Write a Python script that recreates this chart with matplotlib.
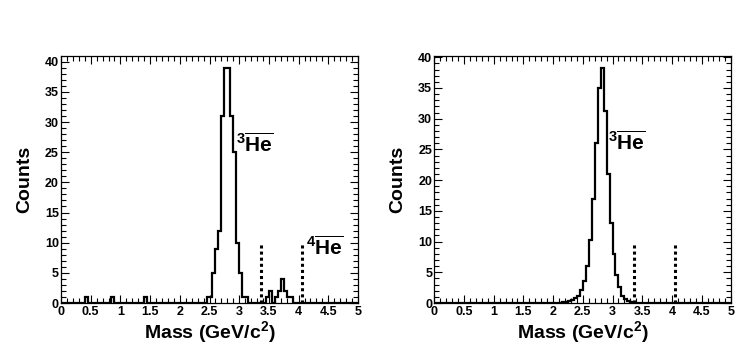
import numpy as np
import matplotlib
matplotlib.use("Agg")
import matplotlib.pyplot as plt
from matplotlib.ticker import MultipleLocator

plt.rcParams['font.family'] = ['Liberation Sans', 'DejaVu Sans']
plt.rcParams['font.weight'] = 'bold'
plt.rcParams['mathtext.fontset'] = 'custom'
plt.rcParams['mathtext.rm'] = 'Liberation Sans:bold'
plt.rcParams['mathtext.bf'] = 'Liberation Sans:bold'
plt.rcParams['mathtext.it'] = 'Liberation Sans:bold'
plt.rcParams['mathtext.sf'] = 'Liberation Sans:bold'

# ---- data ----
bin_width = 0.05
x_range = (0.0, 5.0)

# left panel: data histogram (bin lower edge -> counts)
left_bin_lo = [0.40, 0.85, 1.40, 2.45, 2.50, 2.55, 2.60, 2.65, 2.70, 2.75, 2.80,
               2.85, 2.90, 2.95, 3.00, 3.05, 3.10, 3.45, 3.50, 3.60, 3.65, 3.70,
               3.75, 3.80, 3.85]
left_counts = [1, 1, 1, 1, 1, 5, 9, 12, 31, 39, 39,
               31, 25, 10, 5, 1, 1, 1, 2, 1, 2, 4,
               2, 1, 1]

# right panel: simulated/expected histogram
right_bin_lo = [2.00, 2.05, 2.10, 2.15, 2.20, 2.25, 2.30, 2.35, 2.40, 2.45, 2.50,
                2.55, 2.60, 2.65, 2.70, 2.75, 2.80, 2.85, 2.90, 2.95, 3.00, 3.05,
                3.10, 3.15, 3.20, 3.25, 3.30, 3.35, 3.40]
right_counts = [0.03, 0.05, 0.08, 0.12, 0.2, 0.3, 0.45, 0.75, 1.2, 2.1, 3.5,
                6.0, 10.2, 17.0, 26.0, 35.0, 38.3, 31.2, 21.0, 13.1, 7.9, 4.6,
                2.6, 1.2, 0.6, 0.3, 0.15, 0.08, 0.04]

# mass window cut lines
cut_lines = [3.37, 4.05]
cut_height = 10

left_ymax = 40.95
right_ymax = 40.2

x_label = "Mass (GeV/c$^{2}$)"
y_label = "Counts"
he3_label = r"$^{3}\overline{\mathrm{He}}$"
he4_label = r"$^{4}\overline{\mathrm{He}}$"

edges = np.arange(x_range[0], x_range[1] + bin_width / 2, bin_width)


def fill_hist(bin_lo, counts):
    vals = np.zeros(len(edges) - 1)
    for lo, c in zip(bin_lo, counts):
        vals[int(round((lo - x_range[0]) / bin_width))] = c
    return vals


fig = plt.figure(figsize=(7.47, 3.61), dpi=100)
W, H = 747, 361
ax_l = fig.add_axes([61 / W, 1 - 303 / H, 297 / W, 247 / H])
ax_r = fig.add_axes([434.3 / W, 1 - 303 / H, 297 / W, 247 / H])


def style(ax, ymax):
    ax.set_xlim(*x_range)
    ax.set_ylim(0, ymax)
    ax.xaxis.set_major_locator(MultipleLocator(0.5))
    ax.xaxis.set_minor_locator(MultipleLocator(0.1))
    ax.yaxis.set_major_locator(MultipleLocator(5))
    ax.yaxis.set_minor_locator(MultipleLocator(1))
    ax.tick_params(which='both', direction='in', top=True, right=True, width=0.8,
                   labelsize=9)
    ax.tick_params(which='major', length=6)
    ax.tick_params(which='minor', length=3.5)
    ax.tick_params(axis='x', pad=2)
    ax.tick_params(axis='y', pad=1.5)
    ax.xaxis.set_major_formatter(matplotlib.ticker.FuncFormatter(
        lambda v, p: ('%g' % v)))
    for lab in ax.get_xticklabels() + ax.get_yticklabels():
        lab.set_fontweight('bold')
    for s in ax.spines.values():
        s.set_linewidth(0.9)
    ax.set_xlabel(x_label, fontsize=14, fontweight='bold')
    ax.set_ylabel(y_label, fontsize=14, fontweight='bold')
    ax.xaxis.set_label_coords(0.5, -0.065)
    ax.yaxis.set_label_coords(-0.094, 0.5)


# left
ax_l.stairs(fill_hist(left_bin_lo, left_counts), edges, color='black', linewidth=1.6)
ax_l.vlines(cut_lines, 0, cut_height, colors='black', linestyles=(0, (1, 1)), linewidth=2.2)
style(ax_l, left_ymax)
ax_l.text(2.94, 25, he3_label, fontsize=15, ha='left', va='baseline')
ax_l.text(4.12, 8, he4_label, fontsize=15, ha='left', va='baseline')

# right
ax_r.stairs(fill_hist(right_bin_lo, right_counts), edges, color='black', linewidth=1.6)
ax_r.vlines(cut_lines, 0, cut_height, colors='black', linestyles=(0, (1, 1)), linewidth=2.2)
style(ax_r, right_ymax)
ax_r.text(2.93, 25, he3_label, fontsize=15, ha='left', va='baseline')

fig.savefig("out.png", dpi=100, facecolor='white')
